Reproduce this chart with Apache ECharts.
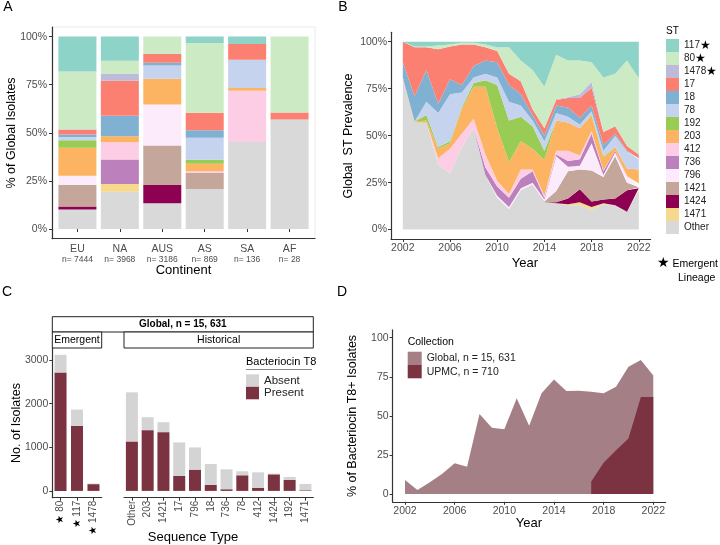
<!DOCTYPE html>
<html>
<head>
<meta charset="utf-8">
<title>ST distribution and Bacteriocin T8</title>
<script src="https://cdn.jsdelivr.net/npm/echarts@6.0.0/dist/echarts.min.js"></script>
<style>
html, body { margin: 0; padding: 0; background: #fff; }
#chart { width: 720px; height: 545px; }
</style>
</head>
<body>
<div id="chart"></div>
<script>
// ---------- data ----------
// sequence types, stacked from bottom to top
var stNames = ['Other', '1471', '1424', '1421', '796', '736', '412', '203', '192', '78', '18', '17', '1478', '80', '117'];
var stColors = ['#d9d9d9', '#f6d98c', '#8e0152', '#c4a69a', '#fcecfb', '#bc80bd', '#fccde5', '#fdb462',
                '#99cc55', '#c6d3ef', '#80b1d3', '#fb8072', '#bebada', '#ccebc5', '#8dd3c7'];
var emergentST = ['117', '80', '1478'];

// panel A : % of isolates per continent (EU, NA, AUS, AS, SA, AF)
var continents = ['EU', 'NA', 'AUS', 'AS', 'SA', 'AF'];
var continentN = [7444, 3968, 3186, 869, 136, 28];
var contOther = [10.2, 19.4, 13.4, 20.8, 45.3, 57.0];
var cont1471  = [0, 4.0, 0, 0, 0, 0];
var cont1424  = [1.5, 0, 9.5, 0, 0, 0];
var cont1421  = [11.2, 0, 20.5, 8.5, 0, 0];
var cont796   = [4.8, 0, 21.3, 0, 0, 0];
var cont736   = [0, 12.7, 0, 0, 0, 0];
var cont412   = [0, 9.0, 0, 0.8, 26.6, 0];
var cont203   = [14.6, 3.1, 13.4, 3.8, 1.4, 0];
var cont192   = [3.8, 0, 0, 2.1, 0, 0];
var cont78    = [1.7, 0, 6.9, 11.5, 14.7, 0];
var cont18    = [1.4, 10.7, 1.4, 3.8, 0, 0];
var cont17    = [2.4, 18.2, 4.6, 9.1, 8.2, 3.6];
var cont1478  = [0.3, 3.5, 0, 0, 0, 0];
var cont80    = [30.0, 6.8, 9.0, 36.3, 0, 39.4];
var cont117   = [18.2, 12.6, 0, 3.3, 3.8, 0];

// panel B : global ST prevalence per year (%), 2002..2022
var years = [2002, 2003, 2004, 2005, 2006, 2007, 2008, 2009, 2010, 2011, 2012,
             2013, 2014, 2015, 2016, 2017, 2018, 2019, 2020, 2021, 2022];
var yrOther = [81, 57, 57, 34.5, 30, 44, 54, 29, 17, 11, 21, 24, 14.5, 14, 13, 13, 10.5, 13.5, 13, 9.5, 21];
var yr1471  = [0, 0, 0, 0, 0, 0, 0, 0, 0, 0, 0, 0, 0, 0, 0.5, 1.5, 1.5, 0.5, 0, 0, 0];
var yr1424  = [0, 0, 0, 0, 0, 0, 0, 0, 0, 0, 0, 0, 0, 0.5, 3, 7, 3, 2, 3.5, 11.5, 1];
var yr1421  = [0, 0, 0, 0, 0, 0, 0, 0, 0, 0, 0, 0, 0.5, 6, 14.5, 10.5, 16.5, 12, 22.5, 4, 0.5];
var yr796   = [0, 0, 0, 0, 0, 0, 0, 0, 1, 1, 1, 1, 1, 18.5, 2.5, 2, 14.5, 1, 2, 3, 1];
var yr736   = [0, 0, 0, 0, 0, 0, 0, 4, 5, 5, 5, 6, 1, 1, 3, 3.5, 5, 2, 1, 0, 0];
var yr412   = [0, 0, 0, 3.5, 13, 7, 5, 7, 3, 2, 5, 1, 1, 2, 5.5, 2, 1.5, 0.5, 0, 0.5, 1];
var yr203   = [0, 0.5, 1, 5, 3, 13, 17, 36, 28, 17, 15, 11, 19, 16, 15, 14.5, 8.5, 7, 2, 4, 7.5];
var yr192   = [0, 0, 3, 1, 1, 1, 2, 3.5, 23, 22, 13, 12, 5, 0, 0, 0, 0, 0.5, 0, 0, 0];
var yr78    = [0, 0, 7, 18, 25, 8, 3, 3.5, 4, 10, 6, 3, 5, 4, 3, 2, 2, 3, 6, 9, 5.5];
var yr18    = [8, 13.5, 17, 5, 8, 4, 6, 7, 8, 9, 6, 3, 3, 4, 5, 3.5, 3, 3, 1, 0.5, 0.5];
var yr17    = [11, 26, 12, 29, 17.5, 21.5, 11.5, 7, 6, 6, 7, 3, 4, 3, 5, 10.5, 9.5, 7, 4, 2.5, 2];
var yr1478  = [0, 0, 0, 0, 0, 0, 0, 0, 0, 0, 0, 0, 0, 0.5, 0.5, 2, 3, 0, 0, 0, 0];
var yr80    = [0, 0.5, 0.5, 2, 1, 1, 1, 1.5, 2, 14, 11, 21, 22, 23.5, 19.5, 18, 10.5, 29, 28, 45.5, 40.5];
var yr117   = [0, 2.5, 2.5, 2, 1.5, 0.5, 0.5, 1.5, 3, 3, 10, 15, 24, 7, 10, 10, 11, 19, 17, 10, 19.5];

// panel C : number of isolates by ST, bacteriocin T8 present / absent
var emergentCats = ['80', '117', '1478'];
var emergentPresent = [2717, 1493, 155];
var emergentAbsent  = [404, 372, 14];
var historicalCats = ['Other', '203', '1421', '17', '796', '18', '736', '78', '412', '1424', '192', '1471'];
var historicalPresent = [1134, 1393, 1347, 342, 487, 137, 38, 358, 68, 380, 251, 15];
var historicalAbsent  = [1126, 297, 228, 769, 510, 479, 457, 91, 358, 16, 69, 145];
var countTicks = [0, 1000, 2000, 3000];

// panel D : % of bacteriocin T8+ isolates per year
var globalT8 = [9, 2.6, 7.5, 13, 19.6, 17.5, 51.2, 42.4, 41.4, 61.2, 43.7,
                64.4, 73.3, 65.9, 66.1, 65.5, 64.4, 68.7, 81.4, 85.7, 75.9];
var upmcYears = [2017, 2018, 2019, 2020, 2021, 2022];
var upmcT8 = [8, 20, 28, 35.5, 62, 62];

var pctTicks = [0, 25, 50, 75, 100];
var yearTicks = [2002, 2006, 2010, 2014, 2018, 2022];

var contShares = [contOther, cont1471, cont1424, cont1421, cont796, cont736, cont412, cont203,
                  cont192, cont78, cont18, cont17, cont1478, cont80, cont117];
var yearShares = [yrOther, yr1471, yr1424, yr1421, yr796, yr736, yr412, yr203,
                  yr192, yr78, yr18, yr17, yr1478, yr80, yr117];

// ---------- chart ----------
var chart = echarts.init(document.getElementById('chart'));

var FONT = '"Liberation Sans", Arial, sans-serif';
var AXIS_COLOR = '#333';
var LABEL_COLOR = '#4d4d4d';
var PRESENT = '#7b3241';
var ABSENT = '#d4d4d4';

function axisLine() { return { show: true, onZero: false, lineStyle: { color: AXIS_COLOR, width: 1.2 } }; }
function ticks(vals) { return { show: true, length: 3, customValues: vals, lineStyle: { color: AXIS_COLOR } }; }
function catTicks() { return { show: true, length: 3, alignWithLabel: true, lineStyle: { color: AXIS_COLOR } }; }
function plain(v) { return String(v); }

// panel B year axis runs one year past each end, as in the original
var axisYears = [];
for (var y = years[0] - 1; y <= years[years.length - 1] + 1; y++) axisYears.push(String(y));
function isYearTick(idx, val) { return yearTicks.indexOf(+val) >= 0; }

var maxCount = 0;
var allPresent = emergentPresent.concat(historicalPresent);
var allAbsent = emergentAbsent.concat(historicalAbsent);
allPresent.forEach(function (p, i) { maxCount = Math.max(maxCount, p + allAbsent[i]); });
var cMin = -maxCount * 0.05, cMax = maxCount * 1.05;

var series = [];

// A: stacked bars per continent
stNames.forEach(function (st, i) {
    series.push({
        type: 'bar', name: st, xAxisIndex: 1, yAxisIndex: 1, stack: 'continent',
        barWidth: 38, color: stColors[i], itemStyle: { color: stColors[i] },
        data: contShares[i]
    });
});

// B: stacked areas per year
stNames.forEach(function (st, i) {
    series.push({
        type: 'line', name: st, xAxisIndex: 2, yAxisIndex: 2, stack: 'year',
        symbol: 'none', color: stColors[i], itemStyle: { color: stColors[i] },
        lineStyle: { width: 0 }, areaStyle: { color: stColors[i], opacity: 1 },
        data: ['-'].concat(yearShares[i], ['-'])
    });
});

// C: present / absent bars
series.push(
    { type: 'bar', name: 'Present', xAxisIndex: 3, yAxisIndex: 3, stack: 'em', barWidth: 12,
      itemStyle: { color: PRESENT }, data: emergentPresent },
    { type: 'bar', name: 'Absent', xAxisIndex: 3, yAxisIndex: 3, stack: 'em', barWidth: 12,
      itemStyle: { color: ABSENT }, data: emergentAbsent },
    { type: 'bar', name: 'Present', xAxisIndex: 4, yAxisIndex: 4, stack: 'hi', barWidth: 12,
      itemStyle: { color: PRESENT }, data: historicalPresent },
    { type: 'bar', name: 'Absent', xAxisIndex: 4, yAxisIndex: 4, stack: 'hi', barWidth: 12,
      itemStyle: { color: ABSENT }, data: historicalAbsent }
);

// D: areas
series.push(
    { type: 'line', name: 'Global, n = 15, 631', xAxisIndex: 5, yAxisIndex: 5, symbol: 'none',
      color: '#a57f86', itemStyle: { color: '#a57f86' }, lineStyle: { width: 0 },
      areaStyle: { color: '#a57f86', opacity: 1 },
      data: globalT8.map(function (v, j) { return [years[j], v]; }) },
    { type: 'line', name: 'UPMC, n = 710', xAxisIndex: 5, yAxisIndex: 5, symbol: 'none',
      color: PRESENT, itemStyle: { color: PRESENT }, lineStyle: { width: 0 },
      areaStyle: { color: PRESENT, opacity: 1 },
      data: upmcT8.map(function (v, j) { return [upmcYears[j], v]; }) }
);

function txt(x, y, text, size, extra) {
    var style = { text: text, x: 0, y: 0, fontSize: size, fontFamily: FONT, fill: '#000',
                  align: 'center', verticalAlign: 'middle' };
    for (var k in (extra || {})) style[k] = extra[k];
    return { type: 'text', x: x, y: y, style: style, z: 10 };
}
function vtxt(x, y, text, size) {
    var t = txt(x, y, text, size);
    t.rotation = Math.PI / 2;
    return t;
}

var option = {
    animation: false,
    textStyle: { fontFamily: FONT },
    grid: [
        // A frame (axis lines + panel border) and A data area (ggplot pads 0.6 of a bar each side)
        { left: 52, top: 27, width: 263, height: 211.7, show: true, borderColor: '#ebebeb', borderWidth: 1, outerBoundsMode: 'none' },
        { left: 56.2, top: 27, width: 254.6, height: 211.7, outerBoundsMode: 'none' },
        { left: 391, top: 32.3, width: 259.6, height: 206.7, outerBoundsMode: 'none' },
        { left: 52.3, top: 348, width: 49.4, height: 149.7, outerBoundsMode: 'none' },
        { left: 124, top: 348, width: 189.3, height: 149.7, outerBoundsMode: 'none' },
        { left: 392.6, top: 329.9, width: 273.1, height: 171.9, outerBoundsMode: 'none' }
    ],
    xAxis: [
        { gridIndex: 0, type: 'value', min: 0, max: 1, splitLine: { show: false },
          axisLine: axisLine(), axisTick: { show: false }, axisLabel: { show: false } },
        { gridIndex: 1, type: 'category', data: continents, axisLine: { show: false }, axisTick: catTicks(),
          axisLabel: { margin: 4, interval: 0,
            formatter: function (v, i) { return '{c|' + v + '}\n{n|n= ' + continentN[i] + '}'; },
            rich: { c: { fontSize: 10.5, color: LABEL_COLOR, lineHeight: 12 },
                    n: { fontSize: 8.5, color: LABEL_COLOR, lineHeight: 9 } } } },
        { gridIndex: 2, type: 'category', data: axisYears, boundaryGap: false,
          axisLine: axisLine(), axisTick: { show: true, length: 3, interval: isYearTick, lineStyle: { color: AXIS_COLOR } },
          axisLabel: { interval: isYearTick, margin: 4, fontSize: 10.5, color: LABEL_COLOR } },
        { gridIndex: 3, type: 'category', data: emergentCats, axisLine: axisLine(), axisTick: catTicks(),
          axisLabel: { interval: 0, margin: 3, rotate: 90, fontSize: 10, color: LABEL_COLOR,
            formatter: function (v) { return '{s|★} ' + v; },
            rich: { s: { fontSize: 10, color: '#000' } } } },
        { gridIndex: 4, type: 'category', data: historicalCats, axisLine: axisLine(), axisTick: catTicks(),
          axisLabel: { interval: 0, margin: 3, rotate: 90, fontSize: 10, color: LABEL_COLOR } },
        { gridIndex: 5, type: 'value', min: 2001, max: 2023, splitLine: { show: false },
          axisLine: axisLine(), axisTick: ticks(yearTicks),
          axisLabel: { customValues: yearTicks, margin: 4, fontSize: 10.5, color: LABEL_COLOR, formatter: plain } }
    ],
    yAxis: [
        { gridIndex: 0, type: 'value', min: -5, max: 105, splitLine: { show: false },
          axisLine: axisLine(), axisTick: ticks(pctTicks),
          axisLabel: { customValues: pctTicks, margin: 5, fontSize: 10.5, color: LABEL_COLOR,
                       formatter: '{value}%' } },
        { gridIndex: 1, type: 'value', min: -5, max: 105, show: false },
        { gridIndex: 2, type: 'value', min: -5, max: 105, splitLine: { show: false },
          axisLine: axisLine(), axisTick: ticks(pctTicks),
          axisLabel: { customValues: pctTicks, margin: 4, fontSize: 10.5, color: LABEL_COLOR,
                       formatter: '{value}%' } },
        { gridIndex: 3, type: 'value', min: cMin, max: cMax, splitLine: { show: false },
          axisLine: axisLine(), axisTick: ticks(countTicks),
          axisLabel: { customValues: countTicks, margin: 4, fontSize: 10.5, color: LABEL_COLOR, formatter: plain } },
        { gridIndex: 4, type: 'value', min: cMin, max: cMax, show: false },
        { gridIndex: 5, type: 'value', min: -5, max: 105, splitLine: { show: false },
          axisLine: axisLine(), axisTick: ticks(pctTicks),
          axisLabel: { customValues: pctTicks, margin: 4, fontSize: 10.5, color: LABEL_COLOR } }
    ],
    legend: [
        { data: stNames.slice().reverse(), orient: 'vertical', left: 666, top: 39, padding: 0,
          itemWidth: 13, itemHeight: 13, itemGap: 0, icon: 'rect', selectedMode: false,
          textStyle: { fontSize: 10, color: '#222', lineHeight: 13,
                       rich: { s: { fontSize: 12, color: '#000', lineHeight: 13 } } },
          formatter: function (n) { return emergentST.indexOf(n) >= 0 ? n + '{s|★}' : n; } },
        { data: ['Absent', 'Present'], orient: 'vertical', left: 246, top: 374.3, padding: 0,
          itemWidth: 13, itemHeight: 12.5, itemGap: 0, icon: 'rect', selectedMode: false,
          textStyle: { fontSize: 11.5, color: '#222', lineHeight: 12.5 } },
        { data: ['Global, n = 15, 631', 'UPMC, n = 710'], orient: 'vertical', left: 407.7, top: 351.7,
          padding: 0, itemWidth: 14, itemHeight: 13.3, itemGap: 0, icon: 'rect', selectedMode: false,
          textStyle: { fontSize: 10.5, color: '#222', lineHeight: 13.3 } }
    ],
    graphic: [
        txt(8, 7, 'A', 14), txt(343, 7, 'B', 14), txt(7, 292, 'C', 14), txt(342, 292, 'D', 14),
        vtxt(12, 133, '% of Global Isolates', 12.5),
        txt(183.5, 270, 'Continent', 13),
        vtxt(348.5, 136, 'Global  ST Prevalence', 12.5),
        txt(525, 263, 'Year', 13),
        txt(666, 31.7, 'ST', 10, { align: 'left' }),
        txt(663, 263.5, '★', 14),
        txt(672.5, 264, 'Emergent', 10.5, { align: 'left' }),
        txt(678, 278, 'Lineage', 10.5, { align: 'left' }),
        // panel C strips
        { type: 'rect', shape: { x: 52.3, y: 316.7, width: 261, height: 15.3 },
          style: { fill: '#fff', stroke: '#222', lineWidth: 1 } },
        { type: 'rect', shape: { x: 52.3, y: 332, width: 49.4, height: 16 },
          style: { fill: '#fff', stroke: '#222', lineWidth: 1 } },
        { type: 'rect', shape: { x: 124, y: 332, width: 189.3, height: 16 },
          style: { fill: '#fff', stroke: '#222', lineWidth: 1 } },
        txt(182.8, 324.5, 'Global, n = 15, 631', 10, { fontWeight: 'bold' }),
        txt(77, 340, 'Emergent', 10.5),
        txt(218.7, 340, 'Historical', 10.5),
        vtxt(16.7, 423, 'No. of Isolates', 12.5),
        txt(193, 537.5, 'Sequence Type', 13),
        txt(246, 362, 'Bacteriocin T8', 11, { align: 'left' }),
        { type: 'line', shape: { x1: 246, y1: 369.5, x2: 312, y2: 369.5 },
          style: { stroke: '#888', lineWidth: 1 } },
        // panel D
        vtxt(353, 416, '% of Bacteriocin T8+ Isolates', 12.5),
        txt(529, 523.5, 'Year', 13),
        txt(407.7, 341.7, 'Collection', 10.5, { align: 'left' })
    ],
    series: series
};

chart.setOption(option);
</script>
</body>
</html>
